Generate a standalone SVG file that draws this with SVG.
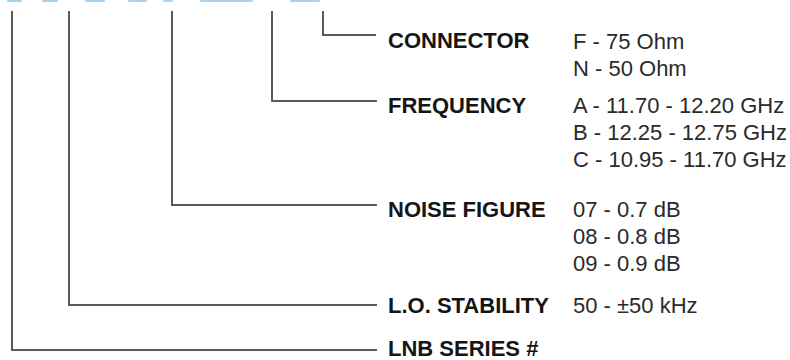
<svg xmlns="http://www.w3.org/2000/svg" width="790" height="360" viewBox="0 0 790 360">
  <style>
    .lbl { font-family: "Liberation Sans", Arial, sans-serif; font-weight: bold; font-size: 22px; fill: #151515; }
    .val { font-family: "Liberation Sans", Arial, sans-serif; font-size: 22px; fill: #2a2a2a; }
    .conn { fill: none; stroke: #5a5a5a; stroke-width: 2; }
    .frag { fill: #a9d2f0; }
  </style>
  <rect width="790" height="360" fill="#ffffff"/>
  <g id="title-fragment">
    <rect class="frag" x="7" y="0" width="15" height="2" rx="1"/>
    <rect class="frag" x="42" y="0" width="16" height="2" rx="1"/>
    <rect class="frag" x="85" y="0" width="20" height="2" rx="1"/>
    <rect class="frag" x="128" y="0" width="19" height="2" rx="1"/>
    <rect class="frag" x="163" y="0" width="10" height="2" rx="1"/>
    <rect class="frag" x="200" y="0" width="53" height="2" rx="1"/>
    <rect class="frag" x="290" y="0" width="30" height="2" rx="1"/>
  </g>
  <g id="connectors">
    <path class="conn" d="M323 11 V35 H376"/>
    <path class="conn" d="M272 11 V101 H377"/>
    <path class="conn" d="M172 11 V205 H377"/>
    <path class="conn" d="M69 11 V305 H377"/>
    <path class="conn" d="M12 11 V350 H377"/>
  </g>
  <g id="connector">
    <text class="lbl" x="388" y="48">CONNECTOR</text>
    <text class="val" x="573" y="49">F - 75 Ohm</text>
    <text class="val" x="573" y="76">N - 50 Ohm</text>
  </g>
  <g id="frequency">
    <text class="lbl" x="388" y="113">FREQUENCY</text>
    <text class="val" x="573" y="113">A - 11.70 - 12.20 GHz</text>
    <text class="val" x="573" y="140">B - 12.25 - 12.75 GHz</text>
    <text class="val" x="573" y="167">C - 10.95 - 11.70 GHz</text>
  </g>
  <g id="noise-figure">
    <text class="lbl" x="388" y="217">NOISE FIGURE</text>
    <text class="val" x="573" y="217">07 - 0.7 dB</text>
    <text class="val" x="573" y="244">08 - 0.8 dB</text>
    <text class="val" x="573" y="271">09 - 0.9 dB</text>
  </g>
  <g id="lo-stability">
    <text class="lbl" x="388" y="313">L.O. STABILITY</text>
    <text class="val" x="573" y="313">50 - ±50 kHz</text>
  </g>
  <g id="lnb-series">
    <text class="lbl" x="388" y="356">LNB SERIES #</text>
  </g>
</svg>
